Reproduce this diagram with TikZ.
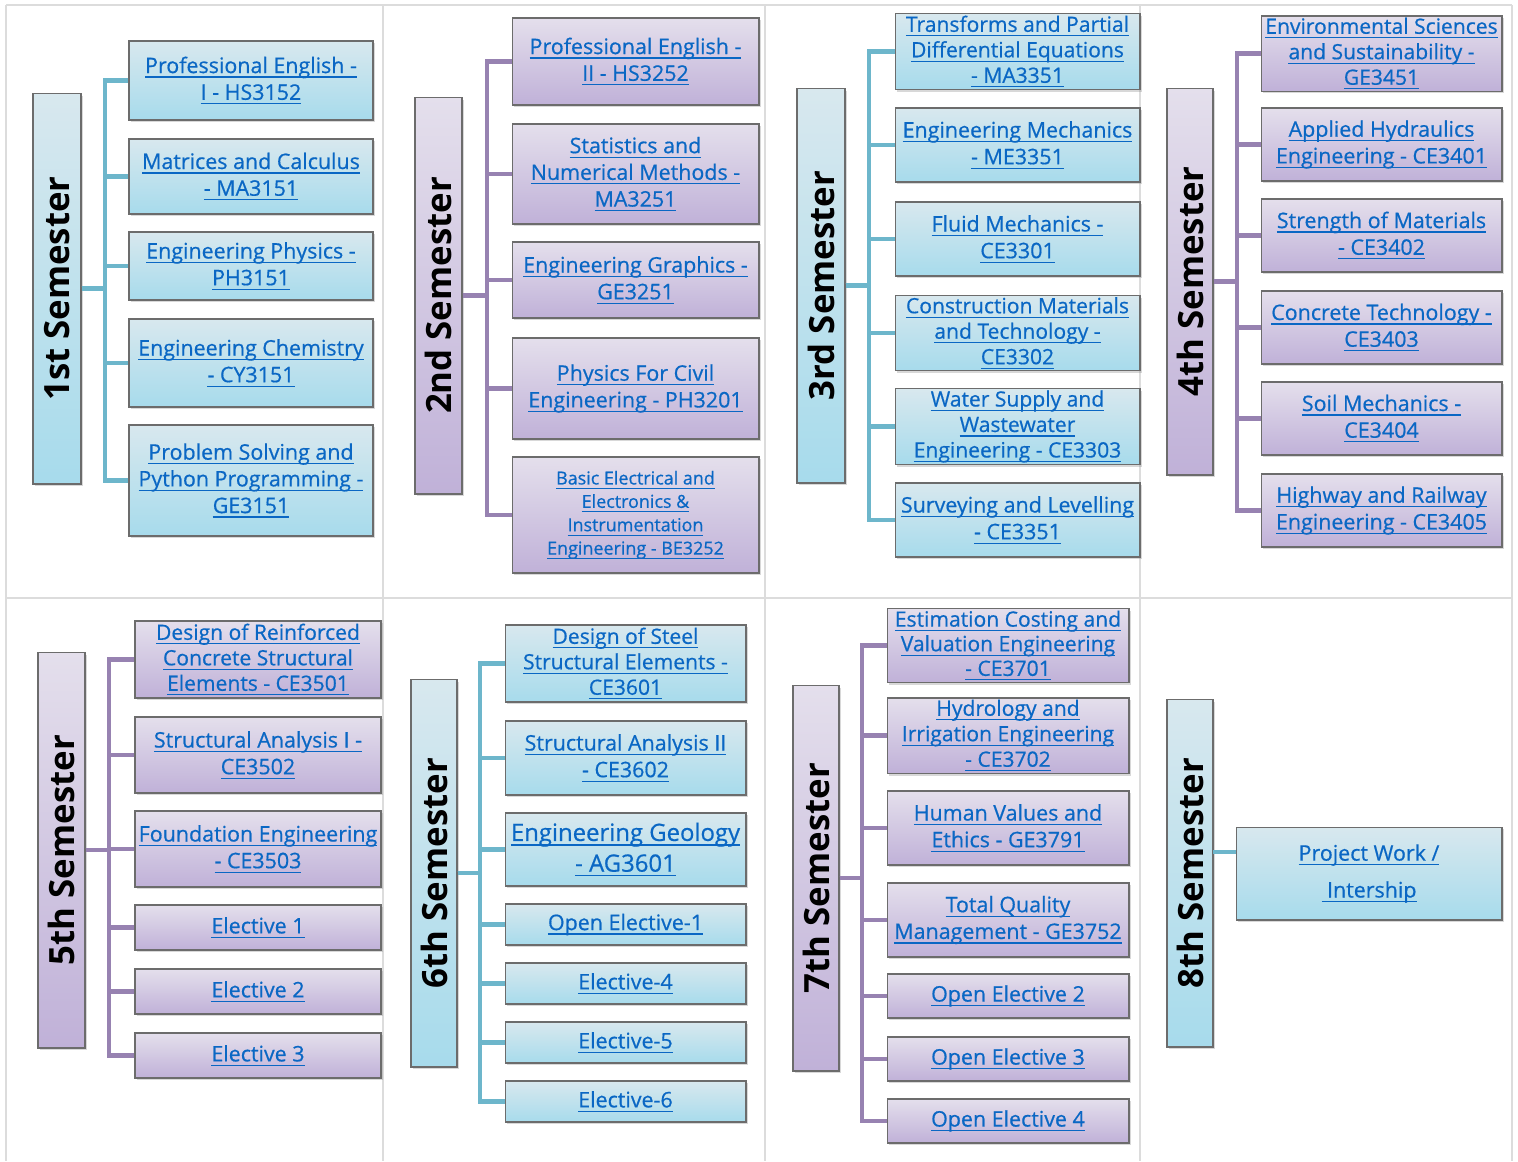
\documentclass[tikz,border=0pt]{standalone}
\usepackage{fontspec}
\setmainfont{Open Sans}
\newfontfamily\subjfont[FakeBold=0.6]{Open Sans}
\usepackage{graphicx}
\usetikzlibrary{shadows}

\definecolor{linkblue}{HTML}{0A67C4}
\definecolor{bluetop}{HTML}{D8E8EE}
\definecolor{bluebot}{HTML}{A7DBEC}
\definecolor{purptop}{HTML}{E4DFEC}
\definecolor{purpbot}{HTML}{C0B1D8}
\definecolor{bluewire}{HTML}{6DB6CB}
\definecolor{purpwire}{HTML}{9782B1}
\definecolor{gridgray}{HTML}{DCDCDC}

% underlined link text, one line
\newcommand{\lnk}[1]{\leavevmode\setbox0=\hbox{#1}\rlap{\rule[-2.6pt]{\wd0}{0.7pt}}\box0}

\begin{document}
\begin{tikzpicture}[x=0.02cm, y=-0.02cm,
subject/.style={rectangle, draw=gray!85!black, line width=0.6pt, align=center, inner sep=1pt, text=linkblue, font=\subjfont\fontsize{12.2}{15.2}\selectfont, drop shadow={shadow xshift=1.2pt, shadow yshift=-1.4pt, opacity=0.3}},
bluebox/.style={subject, top color=bluetop, bottom color=bluebot},
purplebox/.style={subject, top color=purptop, bottom color=purpbot},
semester/.style={rectangle, draw=gray!85!black, line width=0.6pt, inner sep=0pt, font=\fontsize{19.8}{22}\selectfont\bfseries, drop shadow={shadow xshift=1.2pt, shadow yshift=-1.4pt, opacity=0.3}},
bluesem/.style={semester, top color=bluetop, bottom color=bluebot},
purplesem/.style={semester, top color=purptop, bottom color=purpbot},
blueline/.style={draw=bluewire, line width=2.6pt},
purpleline/.style={draw=purpwire, line width=2.6pt},
gridline/.style={draw=gridgray, line width=0.8pt},
col1/.style={minimum width=4.88cm}, col2/.style={minimum width=4.94cm},
col3/.style={minimum width=4.90cm}, col4/.style={minimum width=4.82cm},
col5/.style={minimum width=4.92cm}, col6/.style={minimum width=4.82cm},
col7/.style={minimum width=4.84cm}, col8/.style={minimum width=5.32cm},
]
\fill[white] (0,0) rectangle (1518,1161);
\useasboundingbox (0,0) rectangle (1518,1161);

% table grid
\draw[gridline] (6,5) -- (1512,5) (6,598) -- (1512,598);
\foreach \x in {6,383,765,1140,1512} \draw[gridline] (\x,5) -- (\x,1161);

% 1st semester
\node[bluesem, minimum width=0.96cm, minimum height=7.82cm] (l1) at (57,288.5) {\rotatebox{90}{1st Semester}};
\node[bluebox, col1, minimum height=1.58cm] (b11) at (251,80.5) {\lnk{Professional English -}\\\lnk{I - HS3152}};
\node[bluebox, col1, minimum height=1.50cm] (b12) at (251,176.5) {\lnk{Matrices and Calculus}\\\lnk{- MA3151}};
\node[bluebox, col1, minimum height=1.36cm] (b13) at (251,266) {\lnk{Engineering Physics -}\\\lnk{PH3151}};
\node[bluebox, col1, minimum height=1.76cm] (b14) at (251,363) {\lnk{Engineering Chemistry}\\\lnk{- CY3151}};
\node[bluebox, col1, minimum height=2.22cm] (b15) at (251,480.5) {\lnk{Problem Solving and}\\\lnk{Python Programming -}\\\lnk{GE3151}};
\coordinate (t1) at (105,288.5);
\foreach \i in {1,...,5} \draw[blueline] (l1.east) -- (t1) |- (b1\i.west);

% 2nd semester
\node[purplesem, minimum width=0.94cm, minimum height=7.94cm] (l2) at (438.5,295.5) {\rotatebox{90}{2nd Semester}};
\node[purplebox, col2, minimum height=1.74cm] (b21) at (635.5,61.5) {\lnk{Professional English -}\\\lnk{II - HS3252}};
\node[purplebox, col2, minimum height=2.00cm] (b22) at (635.5,174) {\lnk{Statistics and}\\\lnk{Numerical Methods -}\\\lnk{MA3251}};
\node[purplebox, col2, minimum height=1.52cm] (b23) at (635.5,280) {\lnk{Engineering Graphics -}\\\lnk{GE3251}};
\node[purplebox, col2, minimum height=2.02cm] (b24) at (635.5,388.5) {\lnk{Physics For Civil}\\\lnk{Engineering - PH3201}};
\node[purplebox, col2, minimum height=2.32cm, font=\subjfont\fontsize{10.2}{13.3}\selectfont] (b25) at (635.5,515) {\lnk{Basic Electrical and}\\\lnk{Electronics \&}\\\lnk{Instrumentation}\\\lnk{Engineering - BE3252}};
\coordinate (t2) at (487,295.5);
\foreach \i in {1,...,5} \draw[purpleline] (l2.east) -- (t2) |- (b2\i.west);

% 3rd semester
\node[bluesem, minimum width=0.96cm, minimum height=7.90cm] (l3) at (821,285.5) {\rotatebox{90}{3rd Semester}};
\node[bluebox, col3, minimum height=1.50cm, font=\subjfont\fontsize{12}{14.5}\selectfont] (b31) at (1017.5,51.5) {\lnk{Transforms and Partial}\\\lnk{Differential Equations}\\\lnk{- MA3351}};
\node[bluebox, col3, minimum height=1.48cm] (b32) at (1017.5,145) {\lnk{Engineering Mechanics}\\\lnk{- ME3351}};
\node[bluebox, col3, minimum height=1.48cm] (b33) at (1017.5,239) {\lnk{Fluid Mechanics -}\\\lnk{CE3301}};
\node[bluebox, col3, minimum height=1.48cm, font=\subjfont\fontsize{12}{14.5}\selectfont] (b34) at (1017.5,333) {\lnk{Construction Materials}\\\lnk{and Technology -}\\\lnk{CE3302}};
\node[bluebox, col3, minimum height=1.50cm, font=\subjfont\fontsize{12}{14.5}\selectfont] (b35) at (1017.5,426.5) {\lnk{Water Supply and}\\\lnk{Wastewater}\\\lnk{Engineering - CE3303}};
\node[bluebox, col3, minimum height=1.48cm] (b36) at (1017.5,520) {\lnk{Surveying and Levelling}\\\lnk{- CE3351}};
\coordinate (t3) at (869,285.5);
\foreach \i in {1,...,6} \draw[blueline] (l3.east) -- (t3) |- (b3\i.west);

% 4th semester
\node[purplesem, minimum width=0.92cm, minimum height=7.74cm] (l4) at (1190,281.5) {\rotatebox{90}{4th Semester}};
\node[purplebox, col4, minimum height=1.50cm, font=\subjfont\fontsize{12}{14.5}\selectfont] (b41) at (1381.5,53.5) {\lnk{Environmental Sciences}\\\lnk{and Sustainability -}\\\lnk{GE3451}};
\node[purplebox, col4, minimum height=1.46cm] (b42) at (1381.5,144.5) {\lnk{Applied Hydraulics}\\\lnk{Engineering - CE3401}};
\node[purplebox, col4, minimum height=1.46cm] (b43) at (1381.5,235.5) {\lnk{Strength of Materials}\\\lnk{- CE3402}};
\node[purplebox, col4, minimum height=1.46cm] (b44) at (1381.5,327.5) {\lnk{Concrete Technology -}\\\lnk{CE3403}};
\node[purplebox, col4, minimum height=1.46cm] (b45) at (1381.5,418.5) {\lnk{Soil Mechanics -}\\\lnk{CE3404}};
\node[purplebox, col4, minimum height=1.46cm] (b46) at (1381.5,510.5) {\lnk{Highway and Railway}\\\lnk{Engineering - CE3405}};
\coordinate (t4) at (1237,281.5);
\foreach \i in {1,...,6} \draw[purpleline] (l4.east) -- (t4) |- (b4\i.west);

% 5th semester
\node[purplesem, minimum width=0.94cm, minimum height=7.92cm] (l5) at (61.5,850) {\rotatebox{90}{5th Semester}};
\node[purplebox, col5, minimum height=1.54cm, font=\subjfont\fontsize{12}{14.5}\selectfont] (b51) at (258,659.5) {\lnk{Design of Reinforced}\\\lnk{Concrete Structural}\\\lnk{Elements - CE3501}};
\node[purplebox, col5, minimum height=1.52cm] (b52) at (258,755) {\lnk{Structural Analysis I -}\\\lnk{CE3502}};
\node[purplebox, col5, minimum height=1.52cm] (b53) at (258,849) {\lnk{Foundation Engineering}\\\lnk{- CE3503}};
\node[purplebox, col5, minimum height=0.90cm] (b54) at (258,927.5) {\lnk{Elective 1}};
\node[purplebox, col5, minimum height=0.90cm] (b55) at (258,991.5) {\lnk{Elective 2}};
\node[purplebox, col5, minimum height=0.90cm] (b56) at (258,1055.5) {\lnk{Elective 3}};
\coordinate (t5) at (109,850);
\foreach \i in {1,...,6} \draw[purpleline] (l5.east) -- (t5) |- (b5\i.west);

% 6th semester
\node[bluesem, minimum width=0.92cm, minimum height=7.76cm] (l6) at (434,873) {\rotatebox{90}{6th Semester}};
\node[bluebox, col6, minimum height=1.54cm, font=\subjfont\fontsize{12}{14.5}\selectfont] (b61) at (625.5,663.5) {\lnk{Design of Steel}\\\lnk{Structural Elements -}\\\lnk{CE3601}};
\node[bluebox, col6, minimum height=1.48cm] (b62) at (625.5,758) {\lnk{Structural Analysis II}\\\lnk{- CE3602}};
\node[bluebox, col6, minimum height=1.46cm, font=\subjfont\fontsize{13.6}{17.5}\selectfont] (b63) at (625.5,849.5) {\lnk{Engineering Geology}\\\lnk{- AG3601}};
\node[bluebox, col6, minimum height=0.82cm] (b64) at (625.5,924.5) {\lnk{Open Elective-1}};
\node[bluebox, col6, minimum height=0.82cm] (b65) at (625.5,983.5) {\lnk{Elective-4}};
\node[bluebox, col6, minimum height=0.82cm] (b66) at (625.5,1042.5) {\lnk{Elective-5}};
\node[bluebox, col6, minimum height=0.82cm] (b67) at (625.5,1101.5) {\lnk{Elective-6}};
\coordinate (t6) at (480,873);
\foreach \i in {1,...,7} \draw[blueline] (l6.east) -- (t6) |- (b6\i.west);

% 7th semester
\node[purplesem, minimum width=0.92cm, minimum height=7.72cm] (l7) at (816,878) {\rotatebox{90}{7th Semester}};
\node[purplebox, col7, minimum height=1.38cm, font=\subjfont\fontsize{12}{14}\selectfont] (b71) at (1008,645.5) {\lnk{Estimation Costing and}\\\lnk{Valuation Engineering}\\\lnk{- CE3701}};
\node[purplebox, col7, minimum height=1.46cm, font=\subjfont\fontsize{12}{14.5}\selectfont] (b72) at (1008,735.5) {\lnk{Hydrology and}\\\lnk{Irrigation Engineering}\\\lnk{- CE3702}};
\node[purplebox, col7, minimum height=1.48cm] (b73) at (1008,828) {\lnk{Human Values and}\\\lnk{Ethics - GE3791}};
\node[purplebox, col7, minimum height=1.48cm] (b74) at (1008,920) {\lnk{Total Quality}\\\lnk{Management - GE3752}};
\node[purplebox, col7, minimum height=0.88cm] (b75) at (1008,996) {\lnk{Open Elective 2}};
\node[purplebox, col7, minimum height=0.88cm] (b76) at (1008,1059) {\lnk{Open Elective 3}};
\node[purplebox, col7, minimum height=0.88cm] (b77) at (1008,1121) {\lnk{Open Elective 4}};
\coordinate (t7) at (862,878);
\foreach \i in {1,...,7} \draw[purpleline] (l7.east) -- (t7) |- (b7\i.west);

% 8th semester
\node[bluesem, minimum width=0.92cm, minimum height=6.96cm] (l8) at (1190,873) {\rotatebox{90}{8th Semester}};
\node[bluebox, col8, minimum height=1.86cm, font=\subjfont\fontsize{12.2}{21}\selectfont] (b81) at (1369,873.5) {\lnk{Project Work /}\\\lnk{\ Intership}};
\coordinate (c8) at (1213,852);
\draw[blueline] (c8) -- (c8 -| b81.west);

\end{tikzpicture}
\end{document}
